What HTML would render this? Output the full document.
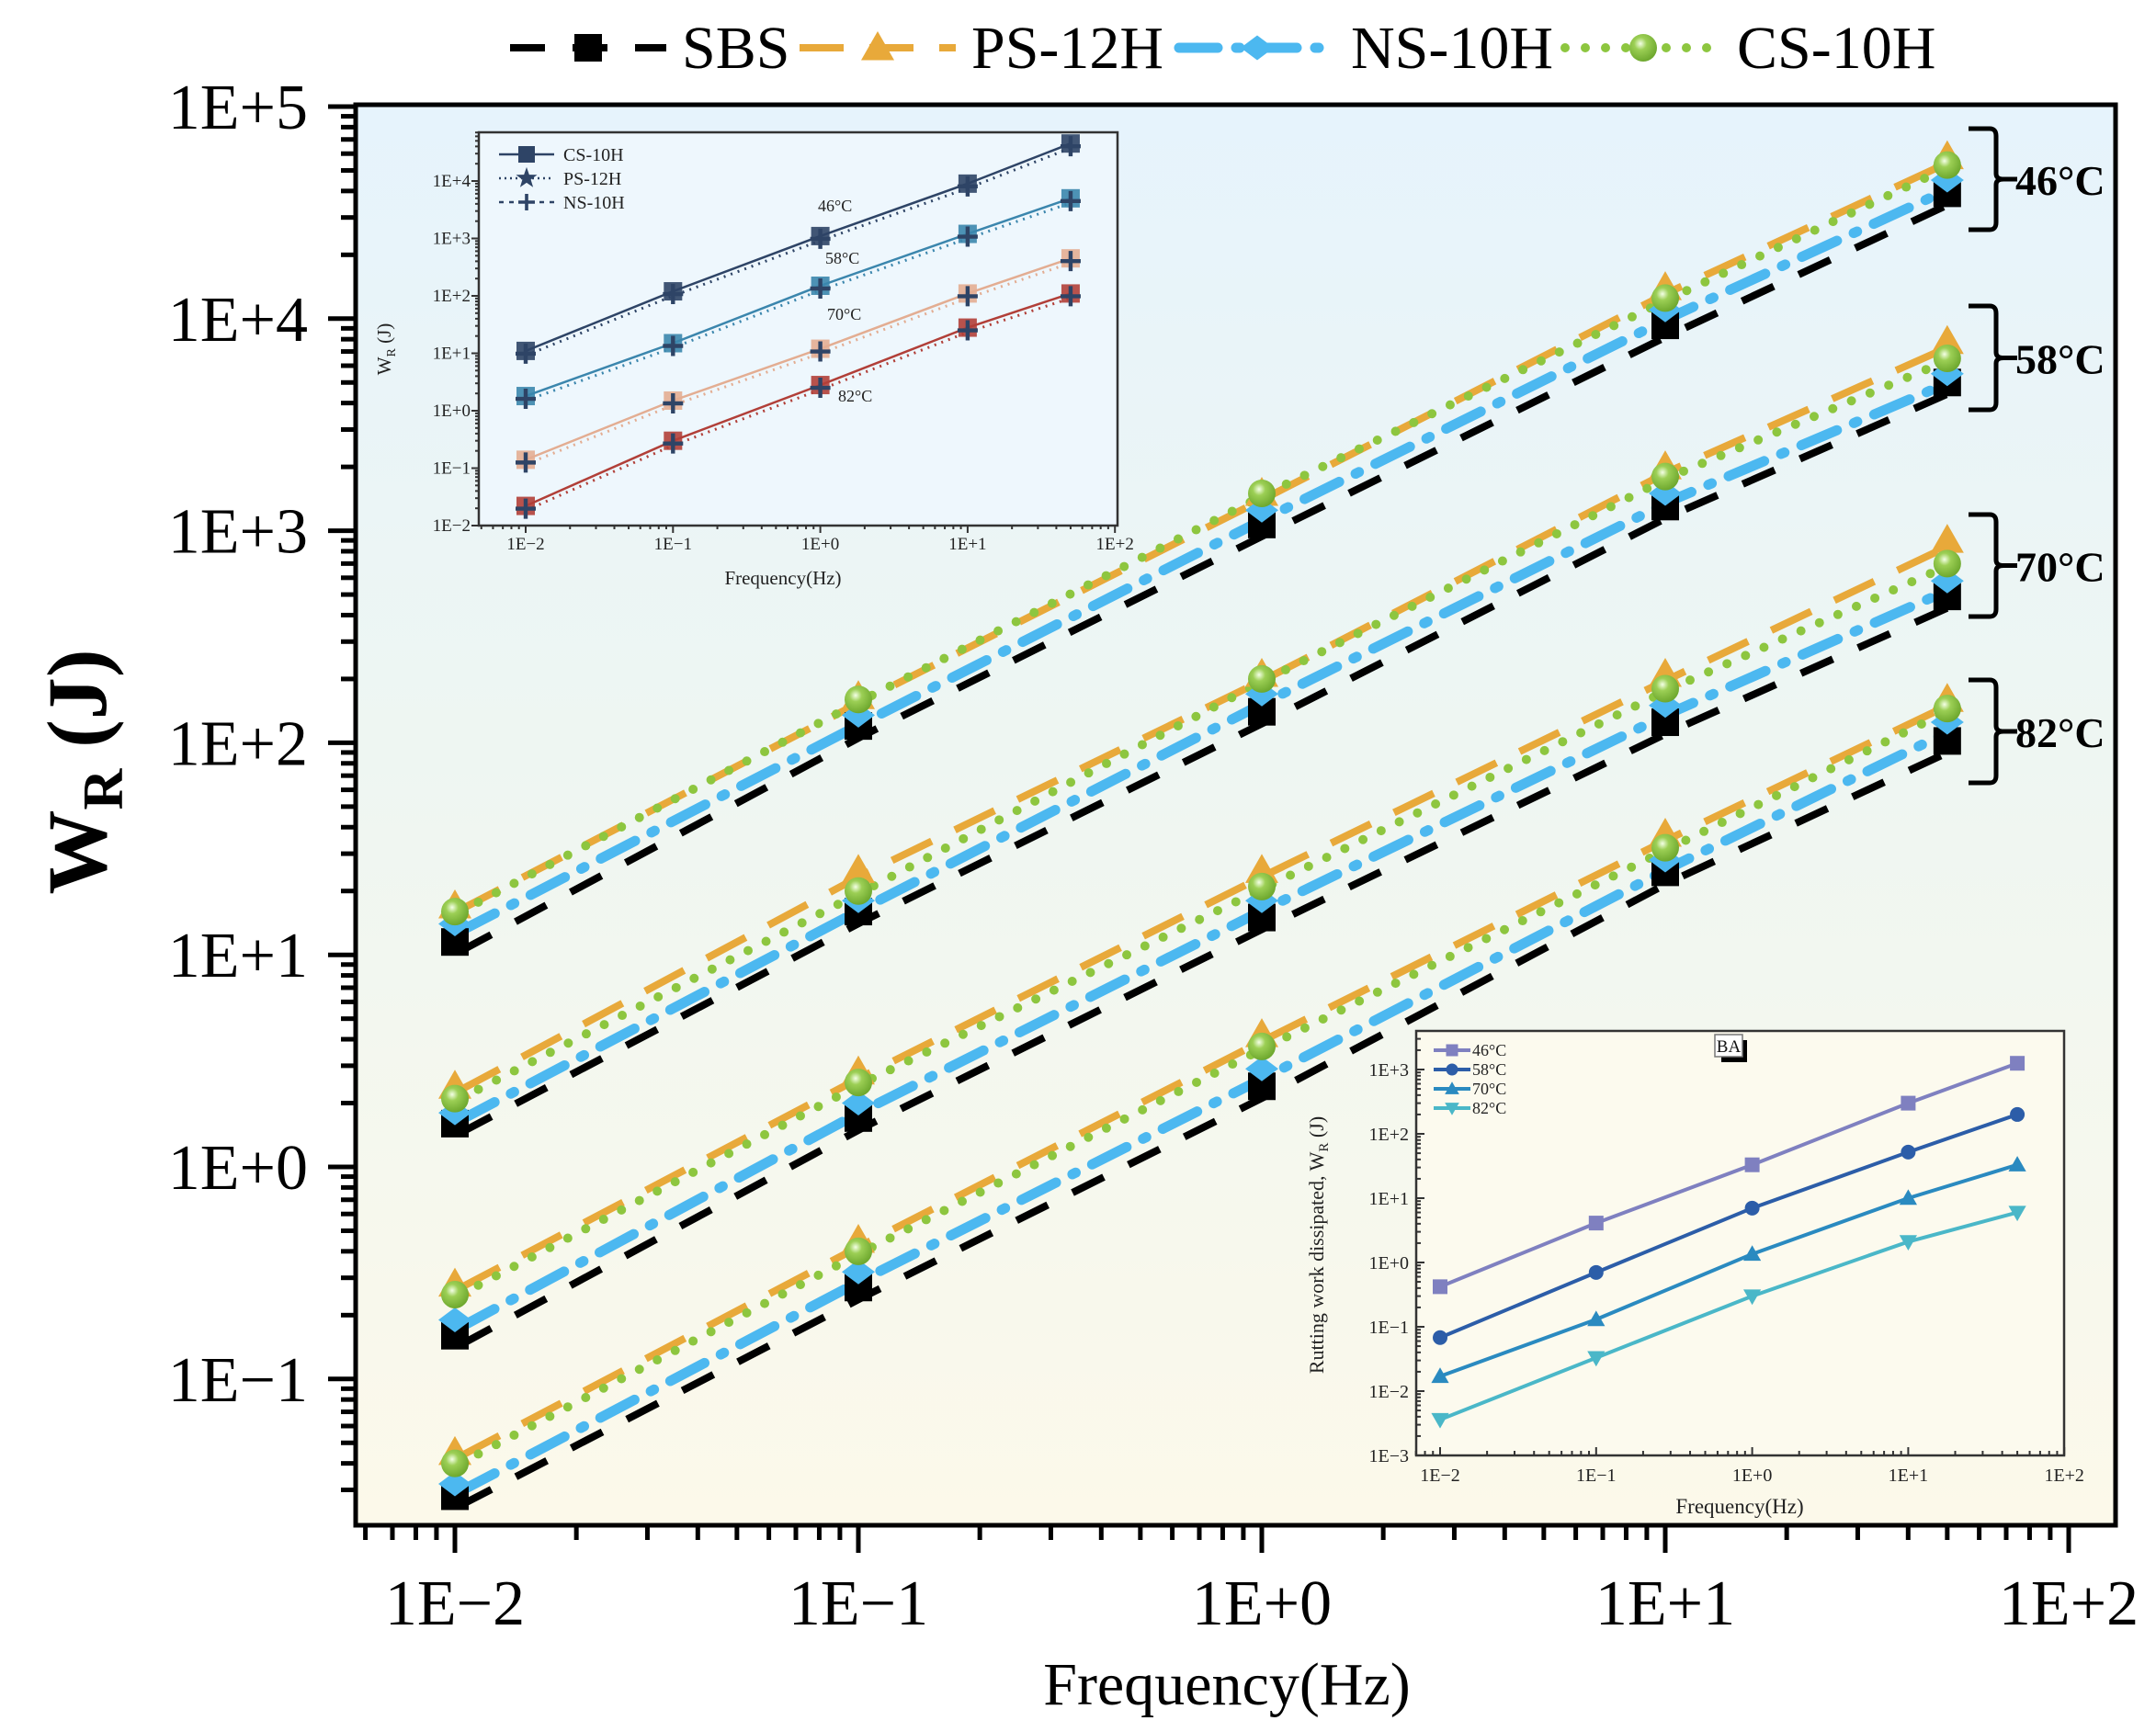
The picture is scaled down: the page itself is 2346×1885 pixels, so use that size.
<!DOCTYPE html>
<html><head><meta charset="utf-8"><style>
body{margin:0;background:#fff}
svg{display:block}
svg text{font-family:"Liberation Serif","Times New Roman",serif}
</style></head><body>
<svg id="chart" width="2346" height="1885" viewBox="0 0 2346 1885" xmlns="http://www.w3.org/2000/svg" font-family="Liberation Serif, serif">
<defs>
<linearGradient id="bg" x1="0" y1="0" x2="0" y2="1">
<stop offset="0" stop-color="#e6f3fc"/><stop offset="0.45" stop-color="#eef6f2"/><stop offset="1" stop-color="#fcf9ea"/>
</linearGradient>
<radialGradient id="ball" cx="0.4" cy="0.35" r="0.65">
<stop offset="0" stop-color="#f4ffe6"/><stop offset="0.35" stop-color="#9ccf55"/><stop offset="1" stop-color="#6ea82e"/>
</radialGradient>
</defs>
<rect x="387" y="114" width="1915" height="1546" fill="url(#bg)"/>
<g id="main"></g>
<g id="inset1"></g>
<g id="inset2"></g>
<rect x="387" y="114" width="1915" height="1546" fill="none" stroke="#000" stroke-width="5"/>
<g id="legend"></g>
<text x="1335" y="1855" font-size="66" text-anchor="middle">Frequency(Hz)</text>
<text transform="translate(115,840) rotate(-90)" font-size="92" font-weight="bold" text-anchor="middle">W<tspan font-size="62" dy="18">R</tspan><tspan dy="-18"> (J)</tspan></text>
</svg>
<script>
const NS='http://www.w3.org/2000/svg';
const freqs=[0.01,0.1,1,10,50];
const temps=['46°C','58°C','70°C','82°C'];
const sbs46=[11.5,120,1070,9300,39000], ps46=[17,165,1500,14000,58000], ns46=[14,135,1250,11000,45000], cs46=[16,160,1500,12500,53000];
const sbs58=[1.6,16,140,1300,5000], ps58=[2.4,25,210,2000,7800], ns58=[1.8,18,170,1500,5500], cs58=[2.1,20,200,1800,6500];
const sbs70=[0.16,1.7,15,125,490], ps70=[0.28,2.8,25,210,900], ns70=[0.19,2.0,18,150,580], cs70=[0.25,2.5,21,180,700];
const sbs82=[0.028,0.27,2.4,24.5,102], ps82=[0.045,0.45,4.2,37,160], ns82=[0.032,0.32,2.9,28,125], cs82=[0.04,0.4,3.7,32,145];
const xTickLabels=['1E−2','1E−1','1E+0','1E+1','1E+2'];
const yTickLabels=['1E−1','1E+0','1E+1','1E+2','1E+3','1E+4','1E+5'];
const in1_46=[11,120,1100,9000,45000], in1_58=[1.8,15,150,1200,5000], in1_70=[0.14,1.5,12,110,450], in1_82=[0.022,0.3,2.8,28,110];
const in1YLabels=['1E−2','1E−1','1E+0','1E+1','1E+2','1E+3','1E+4'];
const ba46=[0.42,4.1,33,300,1250], ba58=[0.068,0.7,7,52,200], ba70=[0.017,0.13,1.35,10,33], ba82=[0.0036,0.033,0.3,2.1,6];
const in2YLabels=['1E−3','1E−2','1E−1','1E+0','1E+1','1E+2','1E+3'];

function el(tag,attrs,parent){const e=document.createElementNS(NS,tag);for(const k in attrs)e.setAttribute(k,attrs[k]);parent.appendChild(e);return e;}
const lg=Math.log10;

const M=document.getElementById('main');
const mx=v=>495+(lg(v)+2)*439;
const my=v=>116+(5-lg(v))*230.8;
for(let d=-3;d<=2;d++){for(let m=1;m<10;m++){const v=m*Math.pow(10,d);const L=lg(v);if(L<-2.246||L>2.118)continue;const x=mx(v);
const t=el('line',{x1:x,y1:1660,x2:x,y2:1660+(m===1?30:16),stroke:'#000','stroke-width':5},M);
}}
for(let d=-2;d<=5;d++){for(let m=1;m<10;m++){const v=m*Math.pow(10,d);const L=lg(v);if(L<-1.69||L>5.001)continue;const y=my(v);
const t=el('line',{x1:387,y1:y,x2:387-(m===1?30:16),y2:y,stroke:'#000','stroke-width':5},M);
}}
xTickLabels.forEach((s,i)=>{const t=el('text',{x:mx(Math.pow(10,i-2)),y:1768,'font-size':70,'text-anchor':'middle'},M);t.textContent=s;
});
yTickLabels.forEach((s,i)=>{const t=el('text',{x:335,y:my(Math.pow(10,i-1))+24,'font-size':70,'text-anchor':'end'},M);t.textContent=s;
});

const series=[
 {name:'sbs',color:'#000',dash:'38 30',w:8,cap:'butt',marker:'square',sets:[sbs46,sbs58,sbs70,sbs82],dx:6,dy:10},
 {name:'ps-12h',color:'#e8a93a',dash:'48 28',w:8,cap:'butt',marker:'tri',sets:[ps46,ps58,ps70,ps82],dx:6,dy:4},
 {name:'ns-10h',color:'#4cb8f0',dash:'42 20 4 20',w:11,cap:'round',marker:'diamond',sets:[ns46,ns58,ns70,ns82],dx:6,dy:8},
 {name:'cs-10h',color:'#8dc63f',dash:'0 22',w:10,cap:'round',marker:'ball',sets:[cs46,cs58,cs70,cs82],dx:6,dy:0}
];
function marker(g,type,x,y,color,sz){
 let e;
 if(type==='square')e=el('rect',{x:x-sz/2,y:y-sz/2,width:sz,height:sz,fill:color},g);
 else if(type==='tri')e=el('polygon',{points:`${x},${y-sz*0.6} ${x+sz*0.6},${y+sz*0.45} ${x-sz*0.6},${y+sz*0.45}`,fill:color},g);
 else if(type==='diamond')e=el('polygon',{points:`${x},${y-sz*0.45} ${x+sz*0.6},${y} ${x},${y+sz*0.45} ${x-sz*0.6},${y}`,fill:color},g);
 else if(type==='ball')e=el('circle',{cx:x,cy:y,r:sz/2,fill:'url(#ball)'},g);
 else if(type==='circle')e=el('circle',{cx:x,cy:y,r:sz/2,fill:color},g);
 else if(type==='vtri')e=el('polygon',{points:`${x},${y+sz*0.6} ${x+sz*0.6},${y-sz*0.45} ${x-sz*0.6},${y-sz*0.45}`,fill:color},g);
 else if(type==='star'){let p=[];for(let i=0;i<10;i++){const r=i%2?sz*0.22:sz*0.55;const a=-Math.PI/2+i*Math.PI/5;p.push((x+r*Math.cos(a))+','+(y+r*Math.sin(a)));}e=el('polygon',{points:p.join(' '),fill:color},g);}
 else if(type==='plus'){e=el('path',{d:`M${x-sz/2},${y}H${x+sz/2}M${x},${y-sz/2}V${y+sz/2}`,stroke:color,'stroke-width':sz/5,fill:'none'},g);}
 return e;
}
series.forEach(s=>{s.sets.forEach((vals,ti)=>{
 const g=el('g',{},M);
 const pts=vals.map((v,i)=>(mx(freqs[i])+s.dx)+','+(my(v)+s.dy)).join(' ');
 const l=el('polyline',{points:pts,fill:'none',stroke:s.color,'stroke-width':s.w,'stroke-dasharray':s.dash,'stroke-linecap':s.cap},g);
 
});});
series.forEach(s=>{s.sets.forEach(vals=>{vals.forEach((v,i)=>{
 const m=marker(M,s.marker,mx(freqs[i]),my(v),s.color,30);
 });});});

const brk=[[140,250],[333,446],[560,671],[740,852]];
brk.forEach((b,i)=>{const g=el('g',{},M);
 const mid=(b[0]+b[1])/2;
 el('path',{d:`M2142,${b[0]} H2165 Q2172,${b[0]} 2172,${b[0]+8} V${mid-6} Q2172,${mid} 2180,${mid} H2195 M2180,${mid} Q2172,${mid} 2172,${mid+6} V${b[1]-8} Q2172,${b[1]} 2165,${b[1]} H2142`,fill:'none',stroke:'#000','stroke-width':5},g);
 const t=el('text',{x:2193,y:mid+17,'font-size':46,'font-weight':'bold'},g);t.textContent=temps[i];
 });

const LG=document.getElementById('legend');
const legItems=[['SBS',555,'square','#000','38 30',8,'butt'],['PS-12H',870,'tri','#e8a93a','48 28',8,'butt'],['NS-10H',1283,'diamond','#4cb8f0','42 20 4 20',11,'round'],['CS-10H',1703,'ball','#8dc63f','0 22',10,'round']];
legItems.forEach(it=>{const g=el('g',{},LG);
 el('line',{x1:it[1],y1:52,x2:it[1]+170,y2:52,stroke:it[3],'stroke-width':it[5],'stroke-dasharray':it[4],'stroke-linecap':it[6]},g);
 marker(g,it[2],it[1]+85,52,it[3],30);
 const t=el('text',{x:it[1]+187,y:74,'font-size':66},g);t.textContent=it[0];});

const I1=document.getElementById('inset1');
const ix=v=>572+(lg(v)+2)*160.3, iy=v=>197+(4-lg(v))*62.5;
el('rect',{x:521,y:144,width:695,height:428,fill:'#eef7fd',stroke:'#333','stroke-width':2.5},I1);
for(let d=-3;d<=2;d++)for(let m=1;m<10;m++){const v=m*Math.pow(10,d);const L=lg(v);if(L<-2.32||L>2.001)continue;el('line',{x1:ix(v),y1:572,x2:ix(v),y2:572+(m===1?8:4),stroke:'#333','stroke-width':2},I1);}
for(let d=-2;d<=4;d++)for(let m=1;m<10;m++){const v=m*Math.pow(10,d);const L=lg(v);if(L>4.85)continue;el('line',{x1:521,y1:iy(v),x2:521-(m===1?8:4),y2:iy(v),stroke:'#333','stroke-width':2},I1);}
xTickLabels.forEach((s,i)=>{const t=el('text',{x:ix(Math.pow(10,i-2)),y:598,'font-size':19,'text-anchor':'middle',fill:'#222'},I1);t.textContent=s;});
in1YLabels.forEach((s,i)=>{const t=el('text',{x:512,y:iy(Math.pow(10,i-2))+6,'font-size':19,'text-anchor':'end',fill:'#222'},I1);t.textContent=s;});
{const t=el('text',{x:852,y:636,'font-size':21,'text-anchor':'middle',fill:'#222'},I1);t.textContent='Frequency(Hz)';
 const u=el('text',{transform:'translate(425,380) rotate(-90)','font-size':21,'text-anchor':'middle',fill:'#222'},I1);u.innerHTML='W<tspan font-size="14" dy="5">R</tspan><tspan dy="-5"> (J)</tspan>';}
const in1Sets=[in1_46,in1_58,in1_70,in1_82], in1Col=['#2e4466','#3b86ad','#e3ad92','#b13f38'];
in1Sets.forEach((vals,k)=>{const g=el('g',{},I1);
 el('polyline',{points:vals.map((v,i)=>ix(freqs[i])+','+iy(v)).join(' '),fill:'none',stroke:in1Col[k],'stroke-width':2.5},g);
 el('polyline',{points:vals.map((v,i)=>ix(freqs[i])+','+(iy(v)+5)).join(' '),fill:'none',stroke:in1Col[k],'stroke-width':3,'stroke-dasharray':'2 6'},g);
 vals.forEach((v,i)=>{marker(g,'square',ix(freqs[i]),iy(v),in1Col[k],20).setAttribute('opacity','0.9');marker(g,'plus',ix(freqs[i]),iy(v)+3,'#2e4466',22);});});
[['46°C',890,230],['58°C',898,287],['70°C',900,348],['82°C',912,437]].forEach(a=>{const t=el('text',{x:a[1],y:a[2],'font-size':18,fill:'#222'},I1);t.textContent=a[0];});
[['CS-10H','square','none'],['PS-12H','star','2 4'],['NS-10H','plus','5 6']].forEach((a,i)=>{const y=168+i*26;
 el('line',{x1:543,y1:y,x2:603,y2:y,stroke:'#2e4466','stroke-width':2.5,'stroke-dasharray':a[2]},I1);marker(I1,a[1],573,y,'#2e4466',a[1]==='star'?22:18);
 const t=el('text',{x:613,y:y+7,'font-size':20,fill:'#222'},I1);t.textContent=a[0];});

const I2=document.getElementById('inset2');
const jx=v=>1567+(lg(v)+2)*169.8, jy=v=>1164+(3-lg(v))*70;
el('rect',{x:1541,y:1122,width:705,height:462,fill:'#fcfaee',stroke:'#333','stroke-width':2.5},I2);
for(let d=-3;d<=2;d++)for(let m=1;m<10;m++){const v=m*Math.pow(10,d);const L=lg(v);if(L<-2.16||L>2.001)continue;el('line',{x1:jx(v),y1:1584,x2:jx(v),y2:1584-(m===1?9:5),stroke:'#333','stroke-width':2},I2);}
for(let d=-3;d<=3;d++)for(let m=1;m<10;m++){const v=m*Math.pow(10,d);const L=lg(v);if(L>3.6)continue;el('line',{x1:1541,y1:jy(v),x2:1541+(m===1?9:5),y2:jy(v),stroke:'#333','stroke-width':2},I2);}
xTickLabels.forEach((s,i)=>{const t=el('text',{x:jx(Math.pow(10,i-2)),y:1612,'font-size':20,'text-anchor':'middle',fill:'#222'},I2);t.textContent=s;});
in2YLabels.forEach((s,i)=>{const t=el('text',{x:1533,y:jy(Math.pow(10,i-3))+7,'font-size':20,'text-anchor':'end',fill:'#222'},I2);t.textContent=s;});
{const t=el('text',{x:1893,y:1647,'font-size':23,'text-anchor':'middle',fill:'#222'},I2);t.textContent='Frequency(Hz)';
 const u=el('text',{transform:'translate(1440,1355) rotate(-90)','font-size':22,'text-anchor':'middle',fill:'#222'},I2);u.innerHTML='Rutting work dissipated, W<tspan font-size="15" dy="5">R</tspan><tspan dy="-5"> (J)</tspan>';}
const baSets=[ba46,ba58,ba70,ba82], baCol=['#7f80c0','#2c5da8','#2a8ac0','#4ab7c8'], baMk=['square','circle','tri','vtri'];
baSets.forEach((vals,k)=>{const g=el('g',{},I2);
 el('polyline',{points:vals.map((v,i)=>jx(freqs[i])+','+jy(v)).join(' '),fill:'none',stroke:baCol[k],'stroke-width':4},g);
 vals.forEach((v,i)=>{const m=marker(g,baMk[k],jx(freqs[i]),jy(v),baCol[k],16);});});
temps.forEach((s,k)=>{const y=1143+k*21;el('line',{x1:1560,y1:y,x2:1600,y2:y,stroke:baCol[k],'stroke-width':4},I2);marker(I2,baMk[k],1580,y,baCol[k],13);
 const t=el('text',{x:1602,y:y+6,'font-size':18,fill:'#222'},I2);t.textContent=s;});
el('rect',{x:1873,y:1132,width:28,height:24,fill:'#000'},I2);
el('rect',{x:1866,y:1126,width:30,height:24,fill:'#fff',stroke:'#777','stroke-width':1.5},I2);
{const t=el('text',{x:1881,y:1145,'font-size':19,'text-anchor':'middle',fill:'#111'},I2);t.textContent='BA';}
</script>
</body></html>
